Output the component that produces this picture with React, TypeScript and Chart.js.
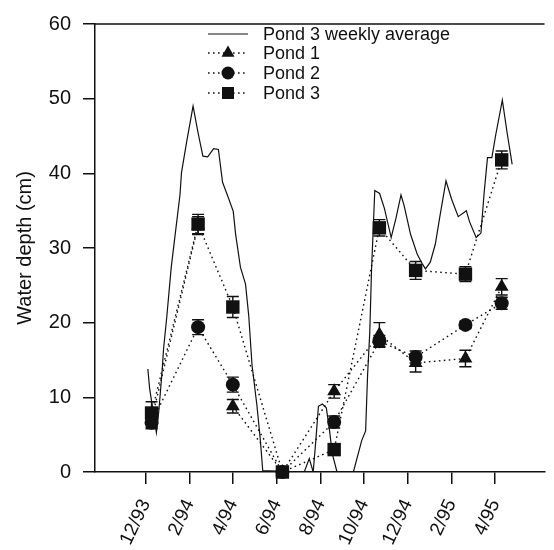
import React, { useEffect, useRef } from 'react';
import { Chart, registerables } from 'chart.js';

Chart.register(...registerables);

// ---- data ----
const tickMonths = [0, 2, 4, 6, 8, 10, 12, 14, 16]; // months since 12/93
const tickLabels = ['12/93', '2/94', '4/94', '6/94', '8/94', '10/94', '12/94', '2/95', '4/95'];
const yTicks = [0, 10, 20, 30, 40, 50, 60];

const sampleMonths = [0.27, 2.4, 3.99, 6.26, 8.63, 10.7, 12.36, 14.64, 16.3];
const pond1 = [7.0, 33.0, 8.8, 0, 10.8, 18.4, 14.6, 15.2, 24.8];
const pond1Err = [1.0, 1.2, 0.9, 0, 0.9, 1.6, 1.2, 1.1, 1.1];
const pond2 = [6.6, 19.4, 11.7, 0, 6.7, 17.5, 15.4, 19.7, 22.6];
const pond2Err = [0.8, 1.0, 1.0, 0, 0.8, 0.8, 0.8, 0.5, 0.8];
const pond3 = [7.9, 33.2, 22.1, 0, 3.0, 32.7, 27.0, 26.5, 41.8];
const pond3Err = [1.5, 1.3, 1.4, 0, 0.5, 1.1, 1.2, 1.0, 1.2];
// Pond 1 connecting segment not drawn in the original (Feb 94 -> Apr 94)
const pond1HiddenSegments = [1];

const weeklyMonths = [
  0.10, 0.18, 0.49, 0.60, 0.75, 0.82, 0.97, 1.17, 1.35, 1.57,
  1.64, 1.87, 2.17, 2.40, 2.62, 2.84, 3.11, 3.33, 3.52, 3.74,
  4.01, 4.12, 4.34, 4.57, 4.72, 4.87, 5.09, 5.24, 5.36, 7.26,
  7.49, 7.67, 7.79, 7.91, 8.09, 8.27, 8.42, 8.54, 8.76, 9.51,
  9.89, 10.07, 10.16, 10.26, 10.34, 10.49, 10.71, 10.93, 11.24, 11.46,
  11.69, 11.83, 12.13, 12.43, 12.66, 12.81, 13.03, 13.26, 13.48, 13.75,
  14.00, 14.31, 14.68, 14.83, 15.13, 15.35, 15.50, 15.65, 15.85, 16.03,
  16.33, 16.55, 16.78,
];
const weeklyDepth = [
  13.8, 11.2, 5.3, 8.1, 13.4, 16.5, 20.9, 27.4, 31.8, 37.1,
  40.1, 44.1, 49.0, 45.4, 42.3, 42.2, 43.3, 43.2, 38.8, 37.1,
  34.9, 31.8, 27.4, 25.2, 20.9, 14.3, 9.0, 4.6, 0.2, 0,
  1.8, 0, 4.2, 8.8, 9.1, 8.6, 5.5, 2.5, 0, 0,
  4.2, 5.5, 13.0, 18.7, 27.0, 37.7, 37.3, 35.3, 31.4, 34.0,
  37.1, 35.7, 31.8, 29.2, 27.9, 27.2, 28.1, 30.5, 34.4, 39.0,
  36.6, 34.2, 35.0, 33.5, 31.4, 32.0, 37.5, 42.1, 42.1, 45.2,
  49.8, 45.4, 41.2,
];

const legendLabels = ['Pond 3 weekly average', 'Pond 1', 'Pond 2', 'Pond 3'];

const FONT = "'Liberation Sans', Arial, Helvetica, sans-serif";
const INK = '#111';

function drawMarker(ctx: CanvasRenderingContext2D, style: string, x: number, y: number, r: number) {
  ctx.beginPath();
  if (style === 'triangle') {
    ctx.moveTo(x, y - r);
    ctx.lineTo(x + r * 0.866, y + r * 0.5);
    ctx.lineTo(x - r * 0.866, y + r * 0.5);
    ctx.closePath();
  } else if (style === 'circle') {
    ctx.arc(x, y, r, 0, Math.PI * 2);
  } else {
    const s = r * Math.SQRT1_2;
    ctx.rect(x - s, y - s, 2 * s, 2 * s);
  }
  ctx.fill();
}

const errorBarPlugin = {
  id: 'errorBars',
  beforeDatasetsDraw(chart: any) {
    const ctx = chart.ctx as CanvasRenderingContext2D;
    const yScale = chart.scales.y;
    ctx.save();
    ctx.strokeStyle = INK;
    ctx.lineWidth = 1.4;
    chart.data.datasets.forEach((ds: any, i: number) => {
      if (!ds.errors) return;
      const meta = chart.getDatasetMeta(i);
      meta.data.forEach((el: any, j: number) => {
        const e = ds.errors[j];
        if (!e) return;
        const v = ds.data[j].y;
        const yTop = yScale.getPixelForValue(v + e);
        const yBot = yScale.getPixelForValue(v - e);
        const x = el.x;
        ctx.beginPath();
        ctx.moveTo(x, yTop);
        ctx.lineTo(x, yBot);
        ctx.moveTo(x - 6, yTop);
        ctx.lineTo(x + 6, yTop);
        ctx.moveTo(x - 6, yBot);
        ctx.lineTo(x + 6, yBot);
        ctx.stroke();
      });
    });
    ctx.restore();
  },
};

const framePlugin = {
  id: 'frameAndLegend',
  afterDraw(chart: any) {
    const ctx = chart.ctx as CanvasRenderingContext2D;
    const { left, right, top } = chart.chartArea;
    ctx.save();
    ctx.strokeStyle = INK;
    ctx.lineWidth = 1.5;
    ctx.beginPath();
    ctx.moveTo(left, top);
    ctx.lineTo(right, top);
    ctx.stroke();

    // legend
    const rowY = [34, 53, 73, 93];
    const x0 = 208;
    const x1 = 248;
    const mx = 228;
    const styles = ['line', 'triangle', 'circle', 'rect'];
    const radii = [0, 7.5, 6.5, 8.5];
    ctx.font = `18px ${FONT}`;
    ctx.textBaseline = 'middle';
    ctx.textAlign = 'left';
    ctx.fillStyle = INK;
    styles.forEach((st, i) => {
      const y = rowY[i];
      ctx.beginPath();
      if (st === 'line') {
        ctx.setLineDash([]);
        ctx.lineWidth = 1.2;
      } else {
        ctx.setLineDash([1.6, 3.4]);
        ctx.lineWidth = 1.4;
      }
      ctx.moveTo(x0, y);
      ctx.lineTo(x1, y);
      ctx.stroke();
      ctx.setLineDash([]);
      if (st !== 'line') drawMarker(ctx, st, mx, y, radii[i]);
      ctx.fillText(legendLabels[i], 263, y + 1);
    });
    ctx.restore();
  },
};

const toPts = (xs: number[], ys: number[]) => xs.map((x, i) => ({ x, y: ys[i] }));

export default function App() {
  const ref = useRef<HTMLCanvasElement>(null);
  useEffect(() => {
    const dotted = [1.6, 3.4];
    const chart = new Chart(ref.current as HTMLCanvasElement, {
      type: 'line',
      data: {
        datasets: [
          {
            label: legendLabels[0],
            data: toPts(weeklyMonths, weeklyDepth),
            borderColor: INK,
            borderWidth: 1.2,
            pointRadius: 0,
            tension: 0,
            fill: false,
            order: 4,
          } as any,
          {
            label: legendLabels[1],
            data: toPts(sampleMonths, pond1),
            errors: pond1Err,
            borderColor: INK,
            borderWidth: 1.4,
            borderDash: dotted,
            segment: {
              borderColor: (c: any) =>
                pond1HiddenSegments.includes(c.p0DataIndex) ? 'rgba(0,0,0,0)' : INK,
            },
            pointStyle: 'triangle',
            pointRadius: 8,
            pointBackgroundColor: INK,
            pointBorderColor: INK,
            pointBorderWidth: 0,
            fill: false,
            clip: false,
            order: 3,
          } as any,
          {
            label: legendLabels[2],
            data: toPts(sampleMonths, pond2),
            errors: pond2Err,
            borderColor: INK,
            borderWidth: 1.4,
            borderDash: dotted,
            pointStyle: 'circle',
            pointRadius: 7,
            pointBackgroundColor: INK,
            pointBorderColor: INK,
            pointBorderWidth: 0,
            fill: false,
            clip: false,
            order: 1,
          } as any,
          {
            label: legendLabels[3],
            data: toPts(sampleMonths, pond3),
            errors: pond3Err,
            borderColor: INK,
            borderWidth: 1.4,
            borderDash: dotted,
            pointStyle: 'rect',
            pointRadius: 9.5,
            pointBackgroundColor: INK,
            pointBorderColor: INK,
            pointBorderWidth: 0,
            fill: false,
            clip: false,
            order: 2,
          } as any,
        ],
      },
      options: {
        responsive: false,
        animation: false,
        devicePixelRatio: 1,
        layout: { padding: { top: 15, right: 1, bottom: 0, left: 0 } },
        plugins: {
          legend: { display: false },
          tooltip: { enabled: false },
        },
        scales: {
          x: {
            type: 'linear',
            min: -2.32,
            max: 18.26,
            afterBuildTicks: (scale: any) => {
              scale.ticks = tickMonths.map((v) => ({ value: v }));
            },
            afterFit: (scale: any) => {
              scale.height = 78;
            },
            grid: {
              drawOnChartArea: false,
              drawTicks: true,
              tickLength: 12,
              color: INK,
              lineWidth: 1.5,
            },
            border: { display: true, color: INK, width: 1.5 },
            ticks: {
              autoSkip: false,
              minRotation: 65,
              maxRotation: 65,
              padding: 12,
              color: INK,
              font: { family: FONT, size: 19 },
              callback: (value: any) => {
                const k = tickMonths.indexOf(Number(value));
                return k >= 0 ? tickLabels[k] : '';
              },
            },
          },
          y: {
            type: 'linear',
            min: 0,
            max: 60,
            afterBuildTicks: (scale: any) => {
              scale.ticks = yTicks.map((v) => ({ value: v }));
            },
            afterFit: (scale: any) => {
              scale.width = 95;
            },
            grid: {
              drawOnChartArea: false,
              drawTicks: true,
              tickLength: 12,
              color: INK,
              lineWidth: 1.5,
            },
            border: { display: true, color: INK, width: 1.5 },
            ticks: {
              padding: 12,
              color: INK,
              font: { family: FONT, size: 20 },
            },
            title: {
              display: true,
              text: 'Water depth (cm)',
              color: INK,
              font: { family: FONT, size: 20 },
              padding: { top: 13, bottom: 0 },
            },
          },
        },
      },
      plugins: [errorBarPlugin, framePlugin],
    } as any);
    return () => chart.destroy();
  }, []);

  return (
    <div style={{ position: 'fixed', left: 0, top: 0, width: 554, height: 550, background: '#fff' }}>
      <canvas ref={ref} width={554} height={550} style={{ display: 'block', width: 554, height: 550 }} />
    </div>
  );
}
